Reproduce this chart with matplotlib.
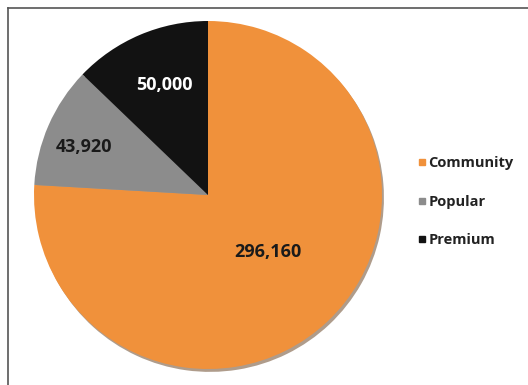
import matplotlib.pyplot as plt
from matplotlib.lines import Line2D

# Subscriber counts per plan
labels = ["Community", "Popular", "Premium"]
values = [296160, 43920, 50000]
colors = ["#F0913B", "#8C8C8C", "#121212"]
text_colors = ["#1a1a1a", "#1a1a1a", "#ffffff"]
# where each number sits inside its wedge (axes data units, radius 1)
label_pos = [(0.345, -0.33), (-0.71, 0.275), (-0.25, 0.63)]

plt.rcParams['font.family'] = ['Open Sans', 'DejaVu Sans']

fig = plt.figure(figsize=(5.28, 3.85), dpi=100)
W, H = 528, 385

# pie axes placed in pixel terms: centre (208,195), radius 174
cx, cy, r = 208, 195, 174
ax = fig.add_axes([(cx - r) / W, (H - cy - r) / H, 2 * r / W, 2 * r / H])
wedges, _ = ax.pie(values, colors=colors, startangle=90, counterclock=False,
                   radius=1, shadow={'ox': 0.008, 'oy': -0.012, 'shade': 0.6},
                   wedgeprops=dict(linewidth=0))
ax.set_xlim(-1, 1)
ax.set_ylim(-1, 1)
ax.set_aspect('auto')
ax.axis('off')

for v, (x, y), tc in zip(values, label_pos, text_colors):
    ax.text(x, y, f"{v:,}", ha='center', va='center', fontsize=13,
            fontweight='bold', color=tc)

# legend on the right
handles = [Line2D([], [], marker='s', linestyle='none', markersize=4,
                  markerfacecolor=c, markeredgecolor=c) for c in colors]
leg = fig.legend(handles, labels, loc='center left',
                 bbox_to_anchor=(406 / W, 1 - 202 / H), frameon=False,
                 handlelength=0.4, handletextpad=0.25, labelspacing=1.68,
                 prop=dict(size=10.5, weight='bold'))
for t in leg.get_texts():
    t.set_color('#222222')

# frame around the chart (left and top edges visible)
fig.add_artist(Line2D([7.5 / W, 7.5 / W], [0, 1 - 7.5 / H], color='#555555',
                      linewidth=1.2, transform=fig.transFigure))
fig.add_artist(Line2D([7.5 / W, 1], [1 - 7.5 / H, 1 - 7.5 / H], color='#555555',
                      linewidth=1.2, transform=fig.transFigure))

fig.savefig('out.png', dpi=100)
plt.close(fig)
